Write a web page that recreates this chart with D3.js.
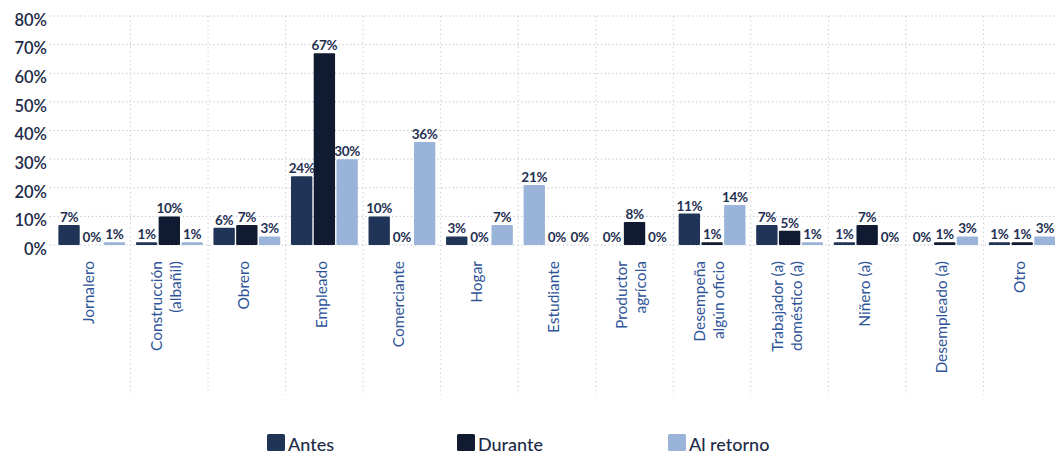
<!DOCTYPE html>
<html>
<head>
<meta charset="utf-8">
<script src="https://cdn.jsdelivr.net/npm/d3@7"></script>
<style>
  html, body { margin: 0; padding: 0; background: #ffffff; }
  svg { display: block; }
</style>
</head>
<body>
<svg id="chart" width="1055" height="456"></svg>
<script>
// ---- data ----
const categories = [
  ["Jornalero"],
  ["Construcción", "(albañil)"],
  ["Obrero"],
  ["Empleado"],
  ["Comerciante"],
  ["Hogar"],
  ["Estudiante"],
  ["Productor", "agrícola"],
  ["Desempeña", "algún oficio"],
  ["Trabajador (a)", "doméstico (a)"],
  ["Niñero (a)"],
  ["Desempleado (a)"],
  ["Otro"]
];
const seriesNames = ["Antes", "Durante", "Al retorno"];
const antes     = [7, 1, 6, 24, 10, 3, 21, 0, 11, 7, 1, 0, 1];
const durante   = [0, 10, 7, 67, 0, 0, 0, 8, 1, 5, 7, 1, 1];
const alRetorno = [1, 1, 3, 30, 36, 7, 0, 0, 14, 1, 0, 3, 3];
const yTicks = [0, 10, 20, 30, 40, 50, 60, 70, 80];

// ---- styles ----
const colors = { "Antes": "#1f3456", "Durante": "#101b31", "Al retorno": "#9ab3d8" };
// the Estudiante "Antes" bar is printed in the light tone in the original
const lightCells = [{ cat: 6, series: "Antes" }];

const svg = d3.select("#chart");
const W = 1055, H = 456;
const margin = { left: 53, right: -6, top: 16, bottom: 211 };

const catKeys = categories.map(c => c.join(" "));
const x0 = d3.scaleBand().domain(catKeys).range([margin.left, W - margin.right]).paddingInner(0).paddingOuter(0);
const x1 = d3.scaleBand().domain(seriesNames).range([4, x0.bandwidth() - 4]).padding(0.06);
const y = d3.scaleLinear().domain([0, 80]).range([245, margin.top]);

const seriesValues = { "Antes": antes, "Durante": durante, "Al retorno": alRetorno };

// grid
const grid = svg.append("g");
grid.selectAll("line.h").data(yTicks).join("line")
  .attr("x1", 50).attr("x2", W)
  .attr("y1", d => y(d)).attr("y2", d => y(d))
  .attr("stroke", "#b9bec6").attr("stroke-width", 1).attr("stroke-dasharray", "1.2,2.6");
grid.selectAll("line.v").data(catKeys.slice(1)).join("line")
  .attr("x1", d => x0(d)).attr("x2", d => x0(d))
  .attr("y1", margin.top).attr("y2", 395)
  .attr("stroke", "#c3c7cd").attr("stroke-width", 1).attr("stroke-dasharray", "1.2,3.2");

// y axis labels
const yAxis = d3.axisLeft(y).tickValues(yTicks).tickFormat(d => d + "%").tickSize(0).tickPadding(0);
const ya = svg.append("g").attr("transform", "translate(47,4)").call(yAxis);
ya.select(".domain").remove();
ya.selectAll("text")
  .attr("fill", "#1d2b49").attr("font-family", "Lato, 'Open Sans', sans-serif")
  .attr("font-size", "16.5px").attr("font-weight", "600");

// bars
const bars = [];
catKeys.forEach((k, i) => {
  seriesNames.forEach(s => {
    const light = lightCells.some(c => c.cat === i && c.series === s);
    bars.push({ cat: k, ci: i, series: s, value: seriesValues[s][i], light });
  });
});

const g = svg.append("g");
g.selectAll("rect").data(bars).join("rect")
  .attr("x", d => x0(d.cat) + x1(d.series))
  .attr("width", x1.bandwidth())
  .attr("y", d => y(d.value))
  .attr("height", d => y(0) - y(d.value))
  .attr("fill", d => d.light ? colors["Al retorno"] : colors[d.series])
  .attr("rx", 1);

g.selectAll("text.val").data(bars).join("text")
  .attr("class", "val")
  .attr("x", d => x0(d.cat) + x1(d.series) + x1.bandwidth() / 2)
  .attr("y", d => y(d.value) - 3)
  .attr("text-anchor", "middle")
  .attr("fill", "#1f3152")
  .attr("font-family", "Lato, 'Open Sans', sans-serif")
  .attr("font-size", "13.5px").attr("font-weight", "700")
  .attr("letter-spacing", "-0.3px")
  .text(d => d.value + "%");

// x labels (rotated)
const xl = svg.append("g");
categories.forEach((lines, i) => {
  const cx = x0(catKeys[i]) + x0.bandwidth() / 2 - 3;
  const t = xl.append("text")
    .attr("transform", `translate(${cx},261) rotate(-90)`)
    .attr("text-anchor", "end")
    .attr("fill", "#2f5599")
    .attr("font-family", "Lato, 'Open Sans', sans-serif")
    .attr("font-size", "15.5px");
  const lh = 19;
  lines.forEach((ln, j) => {
    const off = (j - (lines.length - 1) / 2) * lh;
    t.append("tspan").attr("x", 0).attr("y", off).attr("dy", "0.35em").text(ln);
  });
});

// legend
const legendItems = [
  { name: "Antes", x: 267 },
  { name: "Durante", x: 457 },
  { name: "Al retorno", x: 668 }
];
const lg = svg.append("g");
legendItems.forEach(it => {
  lg.append("rect").attr("x", it.x).attr("y", 434).attr("width", 18).attr("height", 17)
    .attr("fill", colors[it.name]).attr("rx", 1.5);
  lg.append("text").attr("x", it.x + 21).attr("y", 451)
    .attr("fill", "#1d2b49").attr("font-family", "Lato, 'Open Sans', sans-serif")
    .attr("font-size", "18px").attr("font-weight", "500")
    .text(it.name);
});
</script>
</body>
</html>
